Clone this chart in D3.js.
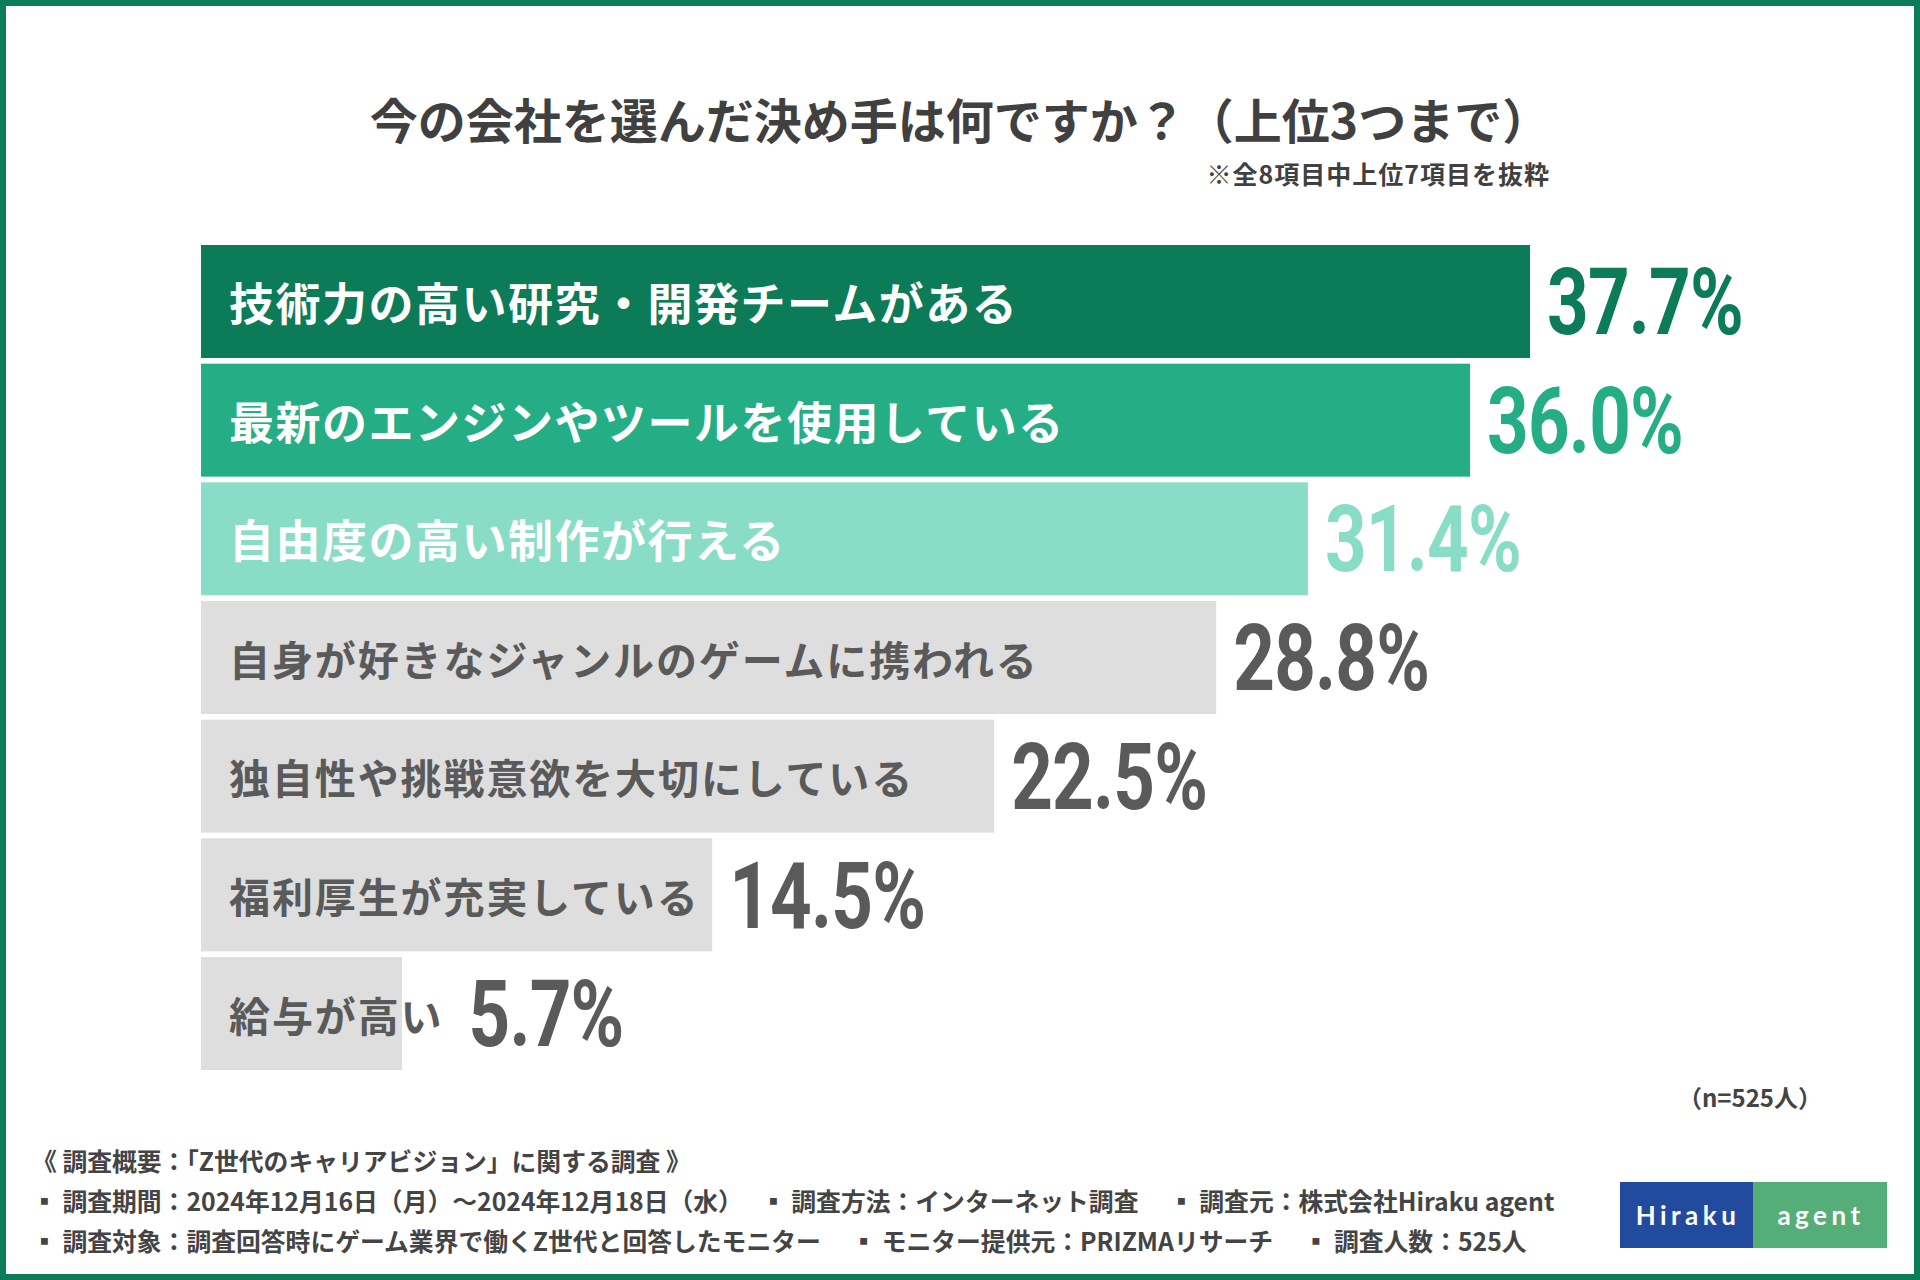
<!DOCTYPE html>
<html>
<head>
<meta charset="utf-8">
<script src="https://cdn.jsdelivr.net/npm/d3@7"></script>
<style>
  html, body { margin: 0; padding: 0; background: #fff; }
  svg { display: block; }
  text { white-space: pre; }
</style>
</head>
<body>
<svg id="chart"></svg>
<script>
const labels = [
    "技術力の高い研究・開発チームがある",
    "最新のエンジンやツールを使用している",
    "自由度の高い制作が行える",
    "自身が好きなジャンルのゲームに携われる",
    "独自性や挑戦意欲を大切にしている",
    "福利厚生が充実している",
    "給与が高い",
];
const values = [37.7, 36.0, 31.4, 28.8, 22.5, 14.5, 5.7];

const title = "今の会社を選んだ決め手は何ですか？（上位3つまで）";
const note = "※全8項目中上位7項目を抜粋";
const sample = "（n=525人）";
const footer = [
    "《 調査概要：「Z世代のキャリアビジョン」に関する調査 》",
    "▪ 調査期間：2024年12月16日（月）～2024年12月18日（水）　 ▪ 調査方法：インターネット調査　 ▪ 調査元：株式会社Hiraku agent",
    "▪ 調査対象：調査回答時にゲーム業界で働くZ世代と回答したモニター　 ▪ モニター提供元：PRIZMAリサーチ　 ▪ 調査人数：525人",
];

const width = 1920;
const height = 1280;
const green = "#0b7b58";
const barFill = ["#0b7b58", "#25ae86", "#89dcc5", "#dedede", "#dedede", "#dedede", "#dedede"];
const valueFill = ["#0b7b58", "#25ae86", "#89dcc5", "#5a5a5a", "#5a5a5a", "#5a5a5a", "#5a5a5a"];
const jp = "'Noto Sans CJK JP', 'Noto Sans', sans-serif";

const svg = d3.select("#chart")
    .attr("width", width)
    .attr("height", height)
    .attr("viewBox", [0, 0, width, height]);

svg.append("rect")
    .attr("x", 3).attr("y", 3)
    .attr("width", width - 6).attr("height", height - 6)
    .attr("fill", "#fff")
    .attr("stroke", green)
    .attr("stroke-width", 6);

// title
svg.append("text")
    .attr("x", 960).attr("y", 118)
    .attr("text-anchor", "middle")
    .attr("dominant-baseline", "central")
    .attr("font-family", jp).attr("font-weight", 700)
    .attr("font-size", 48).attr("fill", "#404040")
    .text(title);

svg.append("text")
    .attr("x", 1550).attr("y", 173)
    .attr("text-anchor", "end")
    .attr("dominant-baseline", "central")
    .attr("font-family", jp).attr("font-weight", 700)
    .attr("font-size", 25).attr("letter-spacing", 1)
    .attr("fill", "#404040")
    .text(note);

const x = d3.scaleLinear().domain([0, 37.7]).range([201, 1530]);
const y = d3.scaleBand().domain(labels).range([245, 1070]).paddingInner(0.048);
const fill = d3.scaleOrdinal().domain(labels).range(barFill);
const vfill = d3.scaleOrdinal().domain(labels).range(valueFill);

const rows = labels.map((l, i) => ({ label: l, value: values[i], top: i < 3 }));

const row = svg.append("g")
    .selectAll("g")
    .data(rows)
    .join("g");

row.append("rect")
    .attr("x", x(0))
    .attr("y", d => y(d.label))
    .attr("width", d => x(d.value) - x(0))
    .attr("height", y.bandwidth())
    .attr("fill", d => fill(d.label));

const lab = row.append("text")
    .attr("x", 229)
    .attr("y", d => y(d.label) + y.bandwidth() / 2)
    .attr("dominant-baseline", "central")
    .attr("font-family", jp).attr("font-weight", 700)
    .attr("font-size", d => d.top ? 45 : 41)
    .attr("letter-spacing", d => d.top ? 1.5 : 1.9)
    .attr("fill", d => d.top ? "#fff" : "#5a5a5a")
    .text(d => d.label);

lab.each(function(d) { d.labelEnd = 229 + this.getComputedTextLength(); });

row.append("text")
    .attr("transform", d => {
        const vx = Math.max(x(d.value), d.labelEnd + 8) + 17;
        return `translate(${vx},${y(d.label) + y.bandwidth() / 2}) scale(0.79,1)`;
    })
    .attr("dy", "0.355em")
    .attr("font-family", "Roboto, 'DejaVu Sans', sans-serif")
    .attr("font-weight", 700)
    .attr("font-size", 92)
    .attr("letter-spacing", -1)
    .attr("fill", d => vfill(d.label))
    .text(d => d.value.toFixed(1) + "%");

// sample size
svg.append("text")
    .attr("x", 1822).attr("y", 1096)
    .attr("text-anchor", "end")
    .attr("dominant-baseline", "central")
    .attr("font-family", jp).attr("font-weight", 700)
    .attr("font-size", 24).attr("fill", "#444")
    .text(sample);

// survey outline
svg.append("g")
    .selectAll("text")
    .data(footer)
    .join("text")
    .attr("x", 32)
    .attr("y", (d, i) => 1160 + i * 40)
    .attr("dominant-baseline", "central")
    .attr("font-family", jp).attr("font-weight", 700)
    .attr("font-size", 24.8).attr("fill", "#444")
    .text(d => d);

// logo
const logo = svg.append("g");
logo.append("rect").attr("x", 1620).attr("y", 1182).attr("width", 133).attr("height", 66).attr("fill", "#224b9e");
logo.append("rect").attr("x", 1753).attr("y", 1182).attr("width", 134).attr("height", 66).attr("fill", "#55ad78");
logo.selectAll("text.logo")
    .data([["Hiraku", 1688], ["agent", 1821]])
    .join("text")
    .attr("class", "logo")
    .attr("x", d => d[1]).attr("y", 1215)
    .attr("text-anchor", "middle")
    .attr("dominant-baseline", "central")
    .attr("font-family", "Lato, 'Open Sans', sans-serif")
    .attr("font-weight", 700)
    .attr("font-size", 26).attr("letter-spacing", 4.5)
    .attr("fill", "#fff")
    .text(d => d[0]);
</script>
</body>
</html>
